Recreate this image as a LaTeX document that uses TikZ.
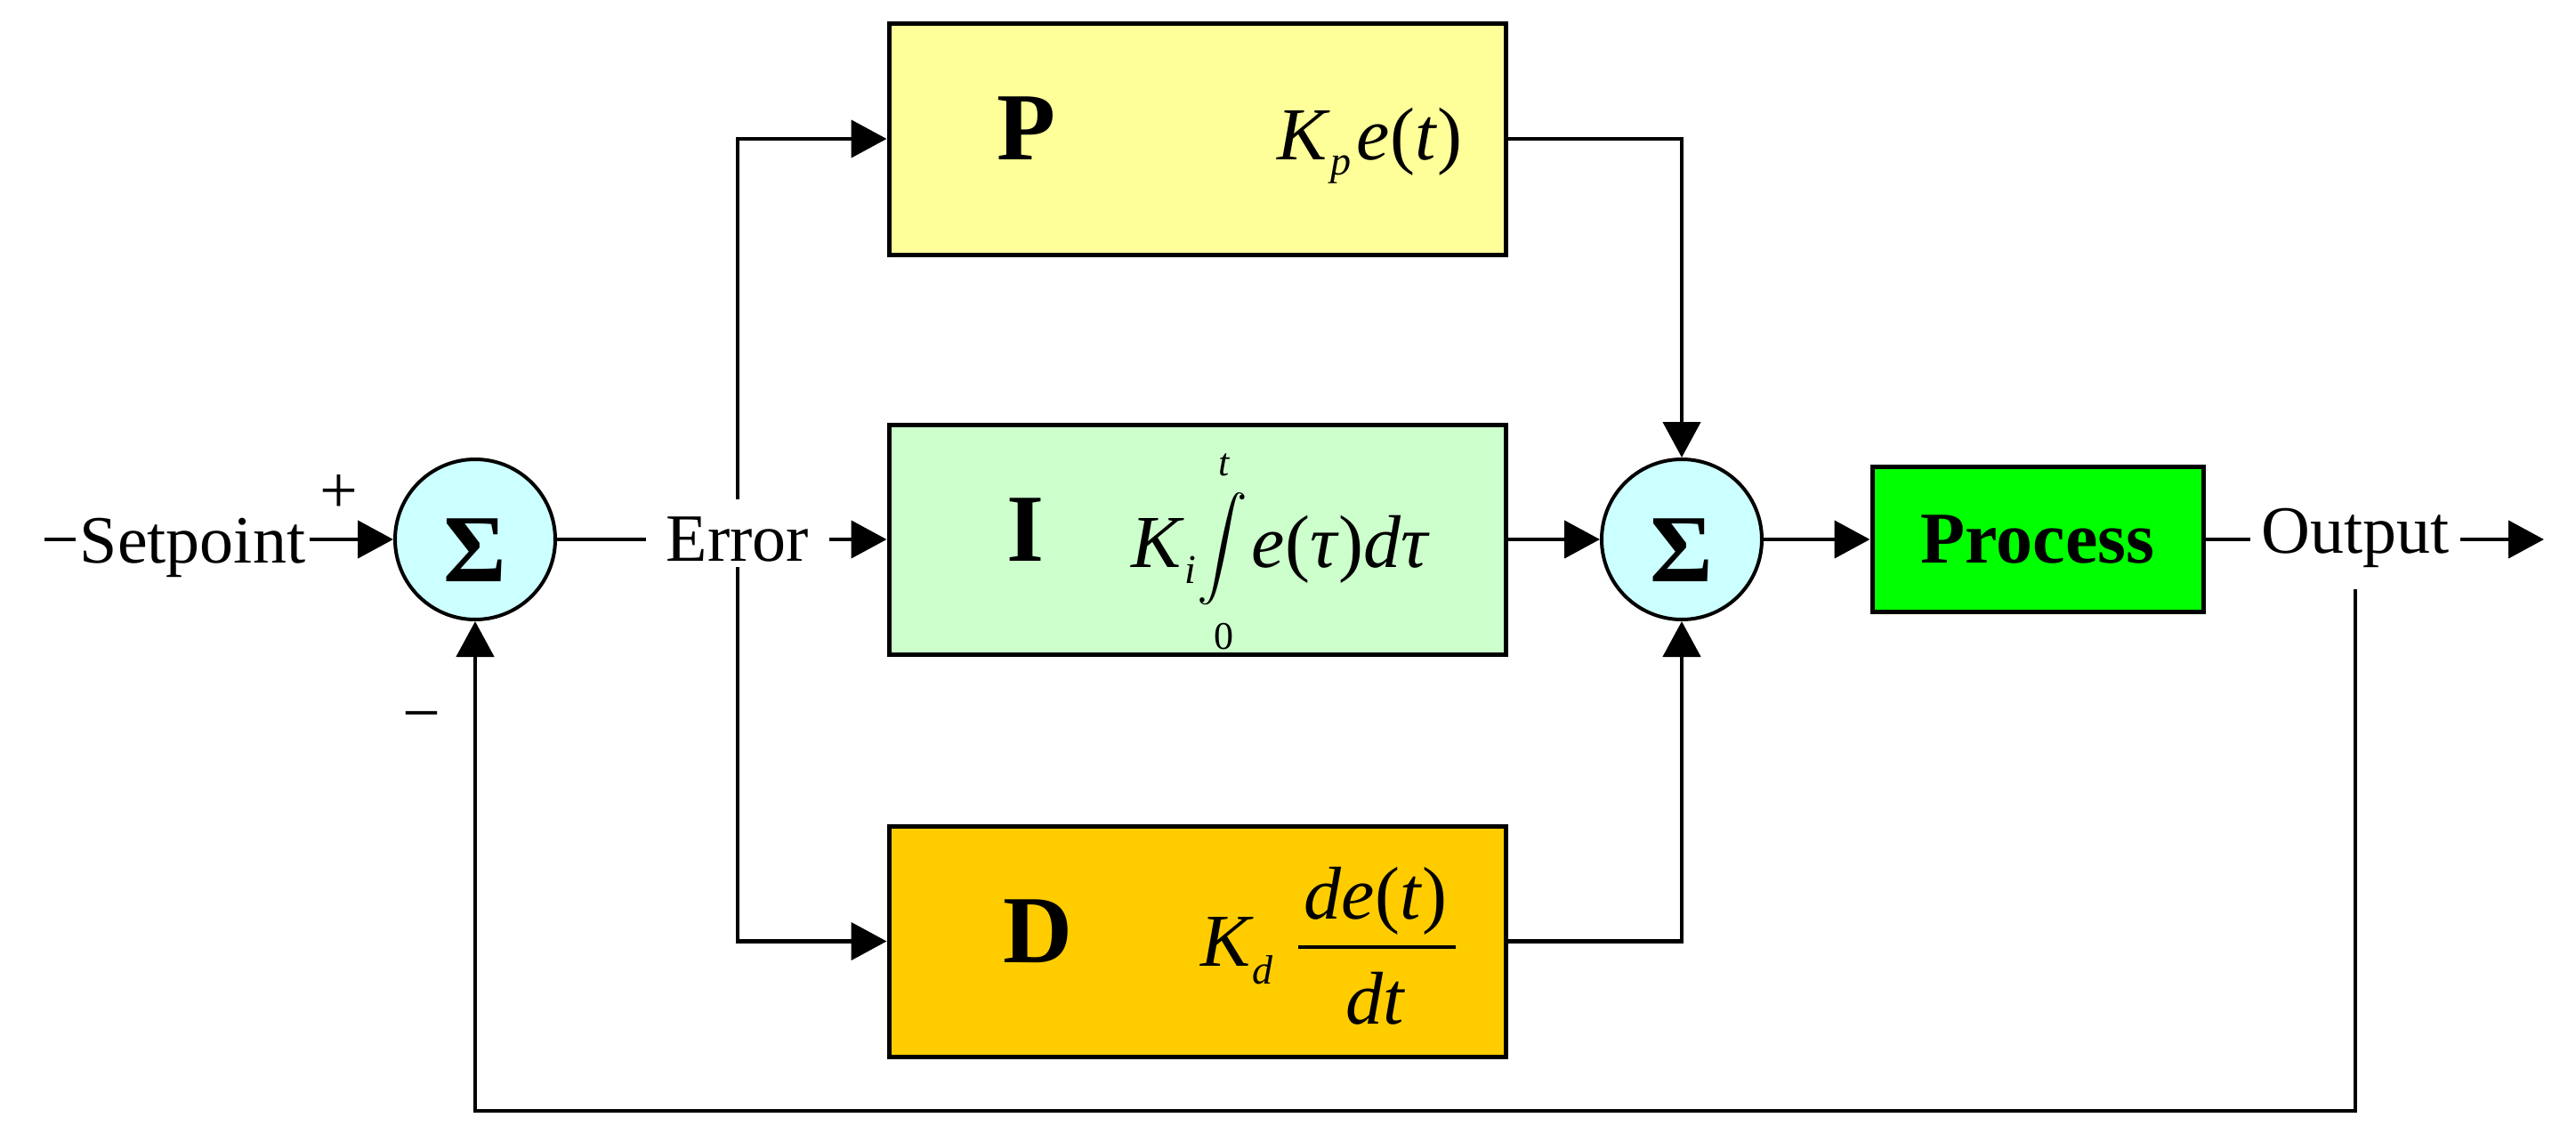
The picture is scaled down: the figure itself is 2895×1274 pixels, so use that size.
\documentclass[tikz,border=0pt]{standalone}
\usepackage{fontspec}
\usepackage{graphicx}
\setmainfont{Liberation Serif}
\usetikzlibrary{arrows.meta}
\definecolor{pyel}{HTML}{FFFF99}
\definecolor{igrn}{HTML}{CCFFCC}
\definecolor{dorg}{HTML}{FFCC00}
\definecolor{pgrn}{HTML}{00FF00}
\definecolor{scyan}{HTML}{CCFFFF}
\newcommand\fmlfont{\fontsize{21pt}{25pt}\selectfont\itshape}
\newcommand\subfnt{\fontsize{11.5pt}{14pt}\selectfont\itshape}
\newcommand\limfnt{\fontsize{11pt}{13pt}\selectfont}
\begin{document}
\begin{tikzpicture}[x=0.25pt,y=-0.25pt,
  blk/.style={draw=black, line width=1.25pt, minimum width=173.25pt, inner sep=0pt},
  sumc/.style={circle, draw=black, line width=1pt, fill=scyan, minimum size=45pt, inner sep=0pt,
    font=\fontsize{27pt}{30pt}\selectfont\bfseries, text height=23.5pt, text depth=0pt},
  lbl/.style={font=\fontsize{19pt}{22pt}\selectfont, inner sep=0pt},
  big/.style={font=\fontsize{27pt}{30pt}\selectfont\bfseries, inner sep=0pt, anchor=base},
  fml/.style={font=\fmlfont, inner sep=0pt},
  wire/.style={line width=1.15pt},
  arr/.style={wire, -{Triangle[length=10pt,width=10.5pt]}},
]
\useasboundingbox (0,0) rectangle (2895,1274);

% blocks
\node[blk, fill=pyel, minimum height=65pt] (P) at (1345.5,156) {};
\node[blk, fill=igrn, minimum height=64.5pt] (I) at (1345.5,606) {};
\node[blk, fill=dorg, minimum height=64.75pt] (D) at (1345.5,1057.5) {};
\node[blk, fill=pgrn, minimum width=93pt, minimum height=40.75pt,
  font=\fontsize{20.5pt}{24pt}\selectfont\bfseries, text height=13pt, text depth=0pt] (proc) at (2290,606) {Process};

% summing junctions
\node[sumc] (s1) at (534,606) {Σ};
\node[sumc] (s2) at (1890,606) {Σ};

% labels
\node[lbl, text height=13pt, text depth=0pt, inner xsep=1pt] (sp) at (216.5,606) {Setpoint};
\node[lbl, text height=15.5pt, text depth=0pt, inner xsep=5.5pt, inner ysep=1.5pt] (err) at (829,599) {Error};
\node[lbl, text height=11.5pt, text depth=4pt, inner xsep=3pt, inner ysep=6pt] (out) at (2647,606) {Output};
\node[lbl, text height=9.5pt, text depth=0pt] (plus) at (381,557) {+};
\node[lbl, text height=9.5pt, text depth=0pt] (minus) at (474,807) {−};

% block letters
\node[big] (pl) at (1153,180) {P};
\node[big] (il) at (1153,630) {I};
\node[big] (dl) at (1166,1081) {D};

% formulas
\node[fml, anchor=base west] (kp) at (1435,180) {K\kern1pt\raisebox{-4.25pt}{\subfnt p}\kern1.5pt e\textup{(}t\textup{)}};
\node[fml, anchor=base west] (ki) at (1271,637) {K\kern1pt\raisebox{-4.5pt}{\subfnt i}};
\node[inner sep=0pt] (intg) at (1374,617) {\scalebox{1.42}{$\displaystyle\int$}};
\node[anchor=base, inner sep=0pt, font=\limfnt\itshape] (tup) at (1376,534) {t};
\node[anchor=base, inner sep=0pt, font=\limfnt] (tlo) at (1375,729) {0};
\node[fml, anchor=base west] (etau) at (1406,637) {e\textup{(}τ\textup{)}dτ};
\node[fml, anchor=base west] (kd) at (1349,1085) {K\kern0.5pt\raisebox{-5pt}{\subfnt d}};
\node[fml, anchor=base] (num) at (1546,1032) {de\textup{(}t\textup{)}};
\node[fml, anchor=base] (den) at (1545,1150) {dt};
\draw[line width=0.8pt] (1459,1064) -- (1636,1064);

% free ends
\coordinate (spin) at (50,606);
\coordinate (outend) at (2859,606);
\coordinate (bot) at (0,1248);

% connectors
\draw[wire] (spin) -- (sp.west);
\draw[arr] (sp.east) -- (s1.west);
\draw[wire] (s1.east) -- (err.west |- s1.east);
\draw[arr] (err.east |- I.west) -- (I.west);
\draw[arr] (err.north) |- (P.west);
\draw[arr] (err.south) |- (D.west);
\draw[arr] (P.east) -| (s2.north);
\draw[arr] (I.east) -- (s2.west);
\draw[arr] (D.east) -| (s2.south);
\draw[arr] (s2.east) -- (proc.west);
\draw[wire] (proc.east) -- (out.west);
\draw[arr] (out.east) -- (outend);
\draw[arr] (out.south) -- (out.south |- bot) -| (s1.south);
\end{tikzpicture}
\end{document}
